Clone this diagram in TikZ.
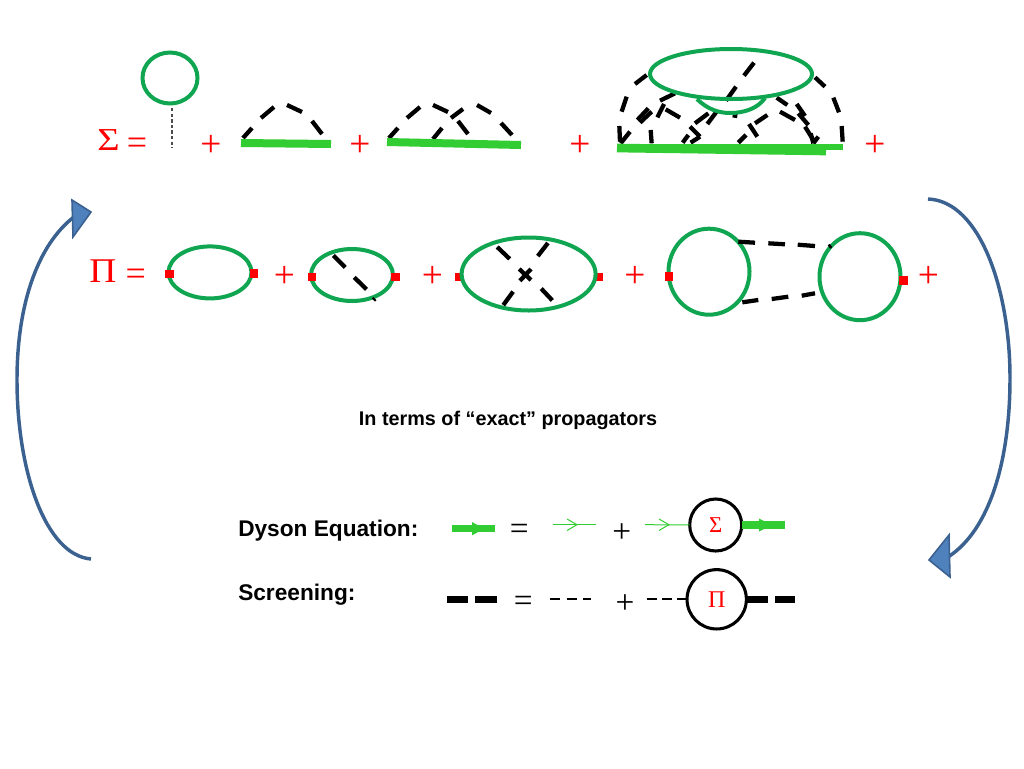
\documentclass[tikz,border=0pt]{standalone}
\usepackage{fontspec}
\setmainfont{Liberation Sans}
\newfontfamily\symf{Liberation Serif}
\usetikzlibrary{shapes.geometric,arrows.meta}
\definecolor{ring}{HTML}{10A651}
\definecolor{prop}{HTML}{32CD32}
\definecolor{bluearc}{HTML}{3A6190}
\definecolor{bluehead}{HTML}{4F81BD}
\tikzset{
 ringel/.style n args={2}{ellipse,draw=ring,line width=3pt,inner sep=0pt,outer sep=0pt,minimum width=#1*0.75pt,minimum height=#2*0.75pt},
 vertex/.style={rectangle,fill=red,inner sep=0pt,outer sep=0pt,minimum size=6.4pt},
 redtxt/.style={text=red,inner sep=0pt},
 blacktxt/.style={text=black,inner sep=0pt},
 label text/.style={font=\bfseries\fontsize{17pt}{20pt}\selectfont,inner sep=0pt,anchor=west},
 bigplus/.style={redtxt,font=\symf\fontsize{28pt}{30pt}\selectfont,yshift=-2.2pt},
 eqsign/.style={redtxt,font=\symf\fontsize{27pt}{30pt}\selectfont,yshift=-3pt},
 blackop/.style={blacktxt,font=\symf\fontsize{25pt}{28pt}\selectfont,yshift=-2.6pt},
 gdash/.style={black,line width=3.2pt},
 thickprop/.style={prop,line width=5.5pt},
 thinprop/.style={prop,line width=0.75pt},
 chev/.style={prop,line width=0.75pt},
 screened/.style={black,line width=5.7pt},
 baredash/.style={black,line width=1.7pt},
 selfcircle/.style={circle,draw=black,line width=2.3pt,inner sep=0pt,outer sep=0pt,fill=white},
 bluecurve/.style={bluearc,line width=2.6pt},
 bluetip/.style={fill=bluehead,draw=bluearc,line width=1.2pt,line join=miter},
}
\newcommand{\gs}[4]{\draw[gdash] (#1,#2) -- (#3,#4);}
\begin{document}
\begin{tikzpicture}[x=0.75pt,y=-0.75pt]
\useasboundingbox[fill=white] (0,0) rectangle (1024,768);

% --- Sigma row ---
\node[redtxt,font=\symf\fontsize{24pt}{28pt}\selectfont,xscale=1.2] (sigma) at (108.5,140.5) {Σ};
\node[eqsign] (eqa) at (137,142) {=};
\node[ringel={55}{51}] (tad) at (170,78) {};
\coordinate (tadfoot) at (172,148);
\draw[black!70,line width=0.8pt,dash pattern=on 2.6pt off 1.6pt] (172,108) -- (tadfoot);
\node[bigplus] (p1) at (211,143) {+};
\node[bigplus] (p2) at (360,143) {+};
\node[bigplus] (p3) at (580,143) {+};
\node[bigplus] (p4) at (875,143) {+};

\gs{243}{138}{252}{128}\gs{261}{118}{274}{107}\gs{287}{105}{302}{112}\gs{312}{121}{322}{134}
\draw[prop,line width=6pt] (241,143) -- (331,144);

\gs{389}{138}{398}{128}\gs{407}{118}{420}{107}\gs{433}{105}{448}{112}\gs{458}{121}{468}{134}
\gs{433}{139}{442}{128}\gs{451}{118}{463}{109}\gs{477}{105}{491}{113}\gs{501}{123}{512}{135}
\draw[prop,line width=6pt] (387,142) -- (521,145);

% big diagram
\foreach \a/\b/\c/\d in {58/288/60/335,65/245/80/200,105/162/140/135,645/142/675/170,700/203/717/247,725/288/728/335,
 62/340/90/305,112/270/145/235,120/278/155/245,152/300/155/340,172/262/192/222,180/212/225/190,197/238/240/263,
 248/338/265/315,270/290/300/320,300/320/272/338,285/280/325/250,322/282/352/242,415/338/438/315,447/282/472/320,
 465/280/502/255,540/245/585/270,530/203/562/225,590/222/615/258,595/250/625/285,615/290/640/330,632/310/640/340,640/340/655/320,
 462/98/432/137,408/170/378/212,398/256/412/258}
 {\draw[gdash] ({600+\a/3},{30+\b/3}) -- ({600+\c/3},{30+\d/3});}
\draw[prop,line width=5pt] (617,147) -- (843,147);
\draw[prop,line width=6.5pt] (617,148) -- (826,151);
\node[ringel={162}{50}] (bigloop) at (731,74) {};
\draw[ring,line width=3pt] (697,99) .. controls (708,110) and (720,113) .. (730,113) .. controls (745,113) and (758,108) .. (765,98);

% --- Pi row ---
\node[redtxt,font=\symf\fontsize{26pt}{30pt}\selectfont,xscale=1.08] (pi) at (103,271.5) {Π};
\node[eqsign] (eqb) at (135.7,273) {=};
\node[ringel={83}{52}] (e1) at (210,272.4) {};
\node[vertex] (e1l) at (169.5,274) {};
\node[vertex] (e1r) at (254,273.5) {};
\node[bigplus] (p5) at (284.4,274) {+};
\node[ringel={82}{52}] (e2) at (352,275) {};
\node[vertex] (e2l) at (311.8,277) {};
\node[vertex] (e2r) at (395.5,277) {};
\gs{333.4}{255.5}{345.2}{267.3}\gs{354.3}{277.4}{366.5}{289.3}\gs{373.5}{300}{375}{298.5}
\node[bigplus] (p6) at (432.4,274) {+};
\node[vertex] (e3l) at (459,277) {};
\node[vertex] (e3r) at (599,277) {};
\node[ringel={134}{73}] (e3) at (528.6,274) {};
\gs{497.2}{247}{509.7}{258.9}\gs{547.9}{243}{537.8}{256.1}\gs{519.2}{269}{531}{280}\gs{531}{269}{519.9}{280.8}\gs{503.3}{305.1}{513.1}{291.6}\gs{541.2}{288.6}{552.3}{300.4}
\node[bigplus] (p7) at (635,274) {+};
\node[ringel={81}{86}] (c1) at (709,271.7) {};
\node[ringel={81}{87}] (c2) at (860,276.7) {};
\node[vertex] (c1l) at (669,276.3) {};
\node[vertex] (c2r) at (903.3,280.3) {};
\node[bigplus] (p8) at (928.3,274) {+};
\gs{738.3}{241.7}{755}{242.7}\gs{768.3}{243.3}{785}{244.3}\gs{797.7}{244.7}{815}{246}\gs{829}{247}{831}{245.5}
\gs{742.3}{302.3}{758.3}{300}\gs{771.7}{299}{788.3}{296.7}\gs{801.7}{295.7}{815}{293.3}

% --- blue cycle arrows ---
\draw[bluecurve] (91,559) .. controls (45,555) and (17,470) .. (17,380) .. controls (17,300) and (40,240) .. (78,214);
\draw[bluetip] (72,200) -- (91,212) -- (73,237) -- cycle;
\draw[bluecurve] (928,199) .. controls (980,201) and (1010,290) .. (1010,378) .. controls (1010,460) and (990,530) .. (948,557);
\draw[bluetip] (949,535) -- (950,577) -- (929,560) -- cycle;

% --- captions ---
\node[font=\bfseries\fontsize{14.85pt}{18pt}\selectfont,inner sep=0pt] (cap) at (508,420) {In terms of “exact” propagators};
\node[label text] (dy) at (238,530.5) {Dyson Equation:};
\node[label text] (sc) at (238,594.5) {Screening:};

% --- Dyson equation ---
\coordinate (da) at (452,528.7);
\coordinate (db) at (495,528.7);
\draw[thickprop] (da) -- (db);
\fill[prop] (472,522) -- (484,528.7) -- (472,535.4) -- cycle;
\node[blackop] (eqd) at (519.3,528.7) {=};
\coordinate (ta) at (552.7,524.7);
\coordinate (tb) at (595.7,524.7);
\draw[thinprop] (ta) -- (tb);
\draw[chev] (567,519) -- (577,524.7) -- (567,530.5);
\node[blackop] (pd) at (621.7,530) {+};
\node[selfcircle,minimum size=39pt] (sig) at (715.7,525) {};
\node[redtxt,font=\symf\fontsize{17pt}{20pt}\selectfont] at (sig.center) {Σ};
\coordinate (tc) at (645,524.7);
\draw[thinprop] (tc) -- (sig);
\draw[chev] (659,519) -- (669,524.7) -- (659,530.5);
\coordinate (sigout) at (785,525);
\draw[thickprop] (sig) -- (sigout);
\fill[prop] (759,518.5) -- (772,525) -- (759,531.5) -- cycle;

% --- Screening ---
\coordinate (sa) at (446.7,599.3);
\coordinate (sb) at (496.7,599.3);
\draw[screened,dash pattern=on 16.2pt off 5pt] (sa) -- (sb);
\node[blackop] (eqs) at (523.3,600) {=};
\coordinate (wa) at (550,599);
\coordinate (wb) at (591,599);
\draw[baredash,dash pattern=on 7.5pt off 4.9pt] (wa) -- (wb);
\node[blackop] (ps) at (625,601) {+};
\node[selfcircle,minimum size=44.5pt] (pol) at (716.7,599.3) {};
\node[redtxt,font=\symf\fontsize{18pt}{20pt}\selectfont] at (pol.center) {Π};
\coordinate (wc) at (646.7,599.3);
\draw[baredash,dash pattern=on 7.5pt off 3.9pt] (wc) -- (pol);
\coordinate (polout) at (795,599.3);
\draw[screened,dash pattern=on 16.2pt off 5.5pt] (pol) -- (polout);
\end{tikzpicture}
\end{document}
